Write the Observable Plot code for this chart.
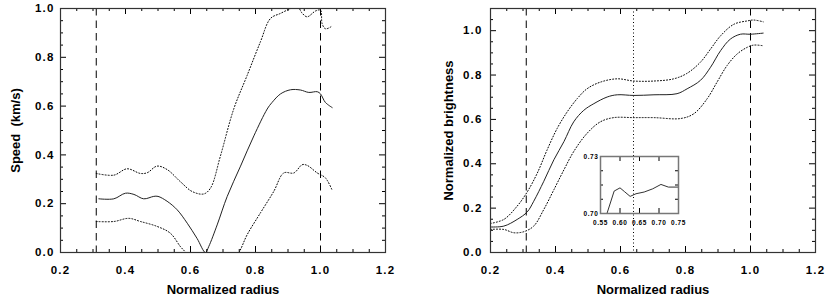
<!DOCTYPE html>
<html><head><meta charset="utf-8">
<script src="https://cdn.jsdelivr.net/npm/d3@7"></script>
<script src="https://cdn.jsdelivr.net/npm/@observablehq/plot@0.6"></script>
<style>
body{margin:0;background:#fff;}
#wrap{position:relative;width:830px;height:300px;overflow:hidden;}
#left,#right,#inset{position:absolute;}
#left{left:0;top:0}
#right{left:415px;top:0}
#inset{left:566px;top:146px}
svg text{font-family:"Liberation Sans",Arial,Helvetica,sans-serif;font-weight:bold;}
g[aria-label="x-axis tick label"] text, g[aria-label="y-axis tick label"] text{letter-spacing:1.2px;}
#inset g[aria-label="x-axis tick label"] text, #inset g[aria-label="y-axis tick label"] text{letter-spacing:0.6px;}
</style></head>
<body><div id="wrap"><div id="left"></div><div id="right"></div><div id="inset"></div></div>
<script>
// ---- tick values ----
const xMajorTicks = [0.2, 0.4, 0.6, 0.8, 1.0, 1.2];
const xMinorTicks = [0.25,0.3,0.35,0.45,0.5,0.55,0.65,0.7,0.75,0.85,0.9,0.95,1.05,1.1,1.15];
const yMajorTicks = [0.0, 0.2, 0.4, 0.6, 0.8, 1.0];
const yMinorTicksSpeed = [0.05,0.1,0.15,0.25,0.3,0.35,0.45,0.5,0.55,0.65,0.7,0.75,0.85,0.9,0.95];
const yMinorTicksBright = [0.05,0.1,0.15,0.25,0.3,0.35,0.45,0.5,0.55,0.65,0.7,0.75,0.85,0.9,0.95,1.05];
const insetXLabels = [0.55, 0.60, 0.65, 0.70, 0.75];
const insetXTicks = [0.60, 0.65, 0.70];
const insetYLabels = [0.70, 0.73];
const insetYTicks = [0.7075, 0.715, 0.7225];

// ---- reference lines ----
const dashedRadii = [0.31, 1.0];
const dottedRadius = [0.64];

// ---- left panel: speed (km/s) ----
const speedMean = [[0.318,0.22],[0.364,0.22],[0.40,0.243],[0.426,0.238],[0.456,0.22],[0.487,0.23],[0.50,0.23],[0.528,0.21],[0.559,0.175],[0.59,0.12],[0.62,0.058],[0.646,0.0],[0.656,0.024],[0.682,0.113],[0.713,0.23],[0.754,0.354],[0.795,0.478],[0.836,0.588],[0.851,0.615],[0.877,0.65],[0.908,0.667],[0.938,0.666],[0.964,0.656],[0.99,0.659],[1.0,0.65],[1.015,0.615],[1.036,0.594]];
const speedUpper = [[0.31,0.324],[0.364,0.317],[0.405,0.343],[0.446,0.324],[0.467,0.327],[0.497,0.354],[0.528,0.34],[0.569,0.29],[0.605,0.25],[0.641,0.24],[0.662,0.265],[0.692,0.395],[0.733,0.588],[0.774,0.725],[0.815,0.863],[0.846,0.959],[0.877,0.98],[0.908,1.0],[0.928,1.01],[0.944,0.98],[0.959,0.966],[0.985,0.99],[1.0,0.993],[1.005,0.938],[1.015,0.917],[1.031,0.924],[1.036,0.93]];
const speedLower = [[0.31,0.127],[0.364,0.127],[0.41,0.14],[0.446,0.127],[0.497,0.107],[0.538,0.079],[0.569,0.024],[0.585,0.0],[0.62,-0.08],[0.66,-0.12],[0.71,-0.07],[0.749,0.0],[0.774,0.072],[0.815,0.162],[0.856,0.25],[0.887,0.326],[0.918,0.326],[0.944,0.36],[0.959,0.357],[0.99,0.326],[1.015,0.306],[1.036,0.255]];

// ---- right panel: normalized brightness ----
const brightMean = [[0.2,0.115],[0.241,0.119],[0.282,0.149],[0.313,0.183],[0.333,0.231],[0.364,0.321],[0.395,0.418],[0.426,0.5],[0.456,0.589],[0.487,0.641],[0.518,0.671],[0.559,0.701],[0.59,0.711],[0.641,0.708],[0.703,0.711],[0.774,0.716],[0.805,0.738],[0.846,0.776],[0.877,0.835],[0.908,0.91],[0.938,0.962],[0.969,0.984],[1.0,0.984],[1.039,0.989]];
const brightUpper = [[0.2,0.131],[0.241,0.149],[0.282,0.209],[0.313,0.273],[0.344,0.358],[0.374,0.462],[0.405,0.559],[0.436,0.634],[0.467,0.694],[0.497,0.738],[0.538,0.768],[0.59,0.783],[0.641,0.773],[0.703,0.773],[0.764,0.783],[0.805,0.808],[0.846,0.858],[0.877,0.917],[0.908,0.977],[0.949,1.029],[0.99,1.044],[1.01,1.048],[1.039,1.04]];
const brightLower = [[0.2,0.104],[0.241,0.104],[0.272,0.089],[0.303,0.094],[0.333,0.119],[0.364,0.194],[0.395,0.283],[0.426,0.373],[0.456,0.455],[0.497,0.537],[0.538,0.589],[0.579,0.608],[0.641,0.608],[0.703,0.608],[0.785,0.604],[0.826,0.626],[0.867,0.694],[0.897,0.768],[0.928,0.843],[0.959,0.895],[0.99,0.925],[1.01,0.935],[1.039,0.932]];

// ---- inset: zoom of brightness plateau ----
const insetCurve = [[0.565,0.699],[0.585,0.7118],[0.60,0.7135],[0.611,0.7116],[0.626,0.709],[0.641,0.7104],[0.662,0.7113],[0.684,0.713],[0.705,0.7153],[0.724,0.7139],[0.75,0.7139]];

const fmt1 = d3.format(".1f");
const fmt2 = d3.format(".2f");
const FONT = '"Liberation Sans",Arial,Helvetica,sans-serif';

function panel({yDomain, yMinor, yLabel, ml, mr, yLabelDx, yPad, lines, dotted}) {
  const W = 415, H = 300, mt = 8, mb = 48;
  const iw = W - ml - mr, ih = H - mt - mb;
  const xy = {x: d => d[0], y: d => d[1]};
  const marks = [
    Plot.ruleX(dashedRadii, {x: d => d, stroke: "#000", strokeWidth: 1, strokeDasharray: "7.5,5"}),
  ];
  if (dotted) marks.push(Plot.ruleX(dotted, {x: d => d, stroke: "#000", strokeWidth: 1, strokeDasharray: "1,2.5"}));
  marks.push(
    Plot.line(lines.upper, {...xy, stroke: "#000", strokeWidth: 1, strokeDasharray: "1,2", curve: "catmull-rom", clip: true}),
    Plot.line(lines.lower, {...xy, stroke: "#000", strokeWidth: 1, strokeDasharray: "1,2", curve: "catmull-rom", clip: true}),
    Plot.line(lines.mean, {...xy, stroke: "#222", strokeWidth: 1, curve: "catmull-rom", clip: true}),
    // inward ticks on all four sides
    Plot.tickX(xMajorTicks, {x: d => d, insetTop: ih - 6, stroke: "#000"}),
    Plot.tickX(xMajorTicks, {x: d => d, insetBottom: ih - 6, stroke: "#000"}),
    Plot.tickX(xMinorTicks, {x: d => d, insetTop: ih - 3, stroke: "#000"}),
    Plot.tickX(xMinorTicks, {x: d => d, insetBottom: ih - 3, stroke: "#000"}),
    Plot.tickY(yMajorTicks, {y: d => d, insetRight: iw - 6, stroke: "#000"}),
    Plot.tickY(yMajorTicks, {y: d => d, insetLeft: iw - 6, stroke: "#000"}),
    Plot.tickY(yMinor, {y: d => d, insetRight: iw - 3, stroke: "#000"}),
    Plot.tickY(yMinor, {y: d => d, insetLeft: iw - 3, stroke: "#000"}),
    Plot.frame({stroke: "#333", strokeWidth: 1.2}),
    Plot.axisX(xMajorTicks, {tickSize: 0, tickPadding: 13, tickFormat: fmt1, label: null, fontSize: 11.5}),
    Plot.axisY(yMajorTicks, {tickSize: 0, tickPadding: yPad, tickFormat: fmt1, label: null, fontSize: 11.5}),
    Plot.text(["Normalized radius"], {frameAnchor: "bottom", dy: 37, fontSize: 13, fontWeight: "bold", fill: "#000", textAnchor: "middle", lineAnchor: "middle"}),
    Plot.text([yLabel], {frameAnchor: "left", dx: yLabelDx, rotate: -90, fontSize: 13, fontWeight: "bold", fill: "#000", textAnchor: "middle", lineAnchor: "middle"})
  );
  return Plot.plot({
    width: W, height: H, marginLeft: ml, marginRight: mr, marginTop: mt, marginBottom: mb,
    x: {domain: [0.2, 1.2]},
    y: {domain: yDomain},
    style: {fontFamily: FONT, fontWeight: "bold", color: "#000", background: "transparent", overflow: "visible"},
    marks
  });
}

document.getElementById("left").appendChild(panel({
  yDomain: [0, 1.0], yMinor: yMinorTicksSpeed, yLabel: "Speed  (km/s)",
  ml: 60, mr: 30, yLabelDx: -45, yPad: 6,
  lines: {mean: speedMean, upper: speedUpper, lower: speedLower}
}));

document.getElementById("right").appendChild(panel({
  yDomain: [0, 1.1], yMinor: yMinorTicksBright, yLabel: "Normalized brightness",
  ml: 75, mr: 15, yLabelDx: -42, yPad: 8,
  lines: {mean: brightMean, upper: brightUpper, lower: brightLower},
  dotted: dottedRadius
}));

// inset
(function(){
  const W = 120, H = 87, ml = 34, mr = 8, mt = 10, mb = 20;
  const iw = W - ml - mr, ih = H - mt - mb;
  const chart = Plot.plot({
    width: W, height: H, marginLeft: ml, marginRight: mr, marginTop: mt, marginBottom: mb,
    x: {domain: [0.55, 0.75]},
    y: {domain: [0.70, 0.73]},
    style: {fontFamily: FONT, fontWeight: "bold", color: "#000", background: "transparent", overflow: "visible"},
    marks: [
      Plot.line(insetCurve, {x: d => d[0], y: d => d[1], stroke: "#333", strokeWidth: 1, clip: true}),
      Plot.tickX(insetXTicks, {x: d => d, insetTop: ih - 5, stroke: "#000"}),
      Plot.tickX(insetXTicks, {x: d => d, insetBottom: ih - 5, stroke: "#000"}),
      Plot.tickY(insetYTicks, {y: d => d, insetRight: iw - 3, stroke: "#000"}),
      Plot.tickY(insetYTicks, {y: d => d, insetLeft: iw - 3, stroke: "#000"}),
      Plot.frame({stroke: "#777", strokeWidth: 1.5}),
      Plot.axisX(insetXLabels, {tickSize: 0, tickPadding: 7, tickFormat: fmt2, label: null, fontSize: 6.5}),
      Plot.axisY(insetYLabels, {tickSize: 0, tickPadding: 2, tickFormat: fmt2, label: null, fontSize: 6.5})
    ]
  });
  document.getElementById("inset").appendChild(chart);
})();
</script>
</body></html>
